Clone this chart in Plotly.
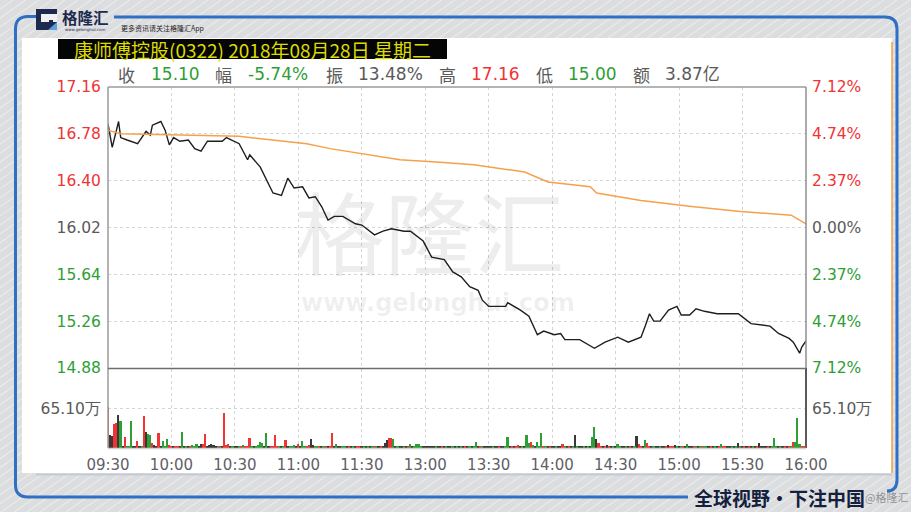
import plotly.graph_objects as go

W, H = 911, 512

# ---------------- data ----------------
time_labels = ["09:30", "10:00", "10:30", "11:00", "11:30", "13:00",
               "13:30", "14:00", "14:30", "15:00", "15:30", "16:00"]
prev_close = 16.02
price_ticks = [14.88, 15.26, 15.64, 16.02, 16.40, 16.78, 17.16]
pct_labels = ["7.12%", "4.74%", "2.37%", "0.00%", "2.37%", "4.74%", "7.12%"]

# minute index since 09:30 (lunch break removed)
price_minutes = [0, 2, 5, 6, 9, 14, 18, 20, 21, 25, 27, 29, 31, 34, 38, 41, 44, 47, 54, 56,
                 62, 66, 67, 72, 78, 82, 85, 88, 92, 95, 98, 101, 104, 107, 111, 117, 120,
                 126, 130, 134, 140, 143, 149, 153, 159, 163, 167, 171, 175, 177, 180, 188,
                 189, 195, 199, 203, 206, 211, 214, 216, 223, 230, 235, 241, 246, 252, 254,
                 256, 258, 261, 265, 269, 271, 275, 278, 282, 288, 298, 304, 313, 317, 322,
                 324, 327, 328, 330]
price_values = [16.86, 16.67, 16.88, 16.75, 16.73, 16.70, 16.80, 16.77, 16.85, 16.88, 16.81,
                16.69, 16.75, 16.72, 16.73, 16.66, 16.64, 16.72, 16.72, 16.75,
                16.70, 16.57, 16.61, 16.51, 16.30, 16.28, 16.42, 16.34, 16.35, 16.26, 16.27,
                16.19, 16.08, 16.11, 16.11, 16.05, 16.04,
                15.96, 15.99, 16.01, 15.99, 15.99, 15.91, 15.78, 15.76, 15.66, 15.62, 15.54,
                15.51, 15.43, 15.38, 15.38,
                15.41, 15.35, 15.30, 15.15, 15.18, 15.15, 15.16, 15.11, 15.11, 15.04, 15.09,
                15.13, 15.09, 15.13, 15.22,
                15.32, 15.26, 15.26, 15.35, 15.38, 15.31, 15.31, 15.36, 15.34, 15.32, 15.32,
                15.24, 15.22, 15.16, 15.12,
                15.09, 15.00, 15.05, 15.10]

avg_minutes = [0, 6, 62, 78, 94, 105, 119, 138, 157, 173, 197, 208, 228, 231, 252, 276, 299, 323, 330]
avg_values = [16.81, 16.78, 16.76, 16.73, 16.70, 16.66, 16.62, 16.57, 16.55, 16.53, 16.47,
              16.39, 16.35, 16.30, 16.24, 16.19, 16.15, 16.12, 16.05]

vol_tick = 65.10  # 万
# per-minute volume (万) and direction: r = up, g = down, k = flat
vol_values = [
    67, 22, 20, 40, 42, 55, 45, 4, 18, 4,
    2, 45, 3, 2, 12, 4, 3, 53, 27, 23,
    21, 8, 5, 3, 24, 4, 12, 3, 15, 5,
    4, 3, 4, 4, 2, 26, 3, 2, 2, 2,
    5, 4, 6, 3, 6, 7, 23, 3, 5, 6,
    5, 3, 2, 2, 2, 57, 5, 7, 2, 2,
    3, 2, 2, 2, 5, 3, 2, 17, 3, 2,
    2, 5, 10, 8, 3, 24, 3, 2, 3, 21,
    2, 2, 2, 2, 13, 2, 3, 2, 5, 2,
    7, 2, 12, 3, 3, 5, 15, 5, 3, 2,
    3, 2, 4, 2, 2, 4, 24, 2, 7, 2,
    3, 2, 3, 2, 2, 2, 4, 2, 2, 4,
    2, 3, 2, 4, 2, 3, 2, 2, 2, 3,
    3, 8, 14, 17, 17, 15, 3, 2, 2, 2,
    2, 2, 2, 7, 2, 2, 7, 6, 2, 2,
    2, 2, 3, 4, 2, 2, 2, 2, 2, 2,
    3, 2, 2, 2, 2, 2, 2, 3, 2, 2,
    2, 2, 2, 2, 10, 2, 3, 2, 2, 2,
    2, 2, 2, 3, 2, 3, 2, 2, 4, 18,
    2, 2, 2, 2, 5, 2, 2, 2, 21, 8,
    10, 5, 2, 10, 3, 25, 3, 2, 2, 2,
    2, 3, 2, 2, 2, 6, 2, 2, 2, 3,
    2, 22, 3, 2, 2, 2, 3, 2, 4, 18,
    35, 15, 8, 2, 3, 2, 5, 3, 3, 2,
    4, 7, 2, 2, 3, 2, 2, 2, 2, 2,
    19, 6, 2, 2, 13, 8, 2, 3, 3, 3,
    2, 3, 3, 2, 2, 5, 2, 2, 5, 2,
    2, 3, 2, 2, 6, 3, 2, 3, 2, 2,
    2, 3, 3, 2, 3, 2, 2, 2, 3, 2,
    7, 3, 2, 2, 2, 3, 2, 2, 9, 2,
    2, 2, 3, 2, 2, 2, 2, 3, 8, 2,
    3, 2, 2, 2, 3, 17, 2, 2, 2, 3,
    2, 2, 2, 2, 10, 10, 49, 7, 2, 2,
]
vol_dirs = list(
    "rkkrrkgkrg" "ggkkrkgrkg" "grkkrkgggr" "rkrrkgkgkr" "gggkkrrkkk"
    "kkgrkrrrkg" "kkgrgrrrgk" "gggg" "kgkrr" "r"
    "rgkgrkggg" "k" "rkgg" "rrkkgg" "rkgrkrrkgk" "kggkrkgkrr"
    "kgkgkgrgkr" "kkkrrgkgkk" "gkrgkggggk" "kkkkkgkkrk" "gkkgkgkgkr"
    "kgkggkrgkk" "kkgkkrkkgg" "krkrrkgkgg" "rgkgggrgkrk"
    "kgkkrgkrkg" "kgkkgkgkgg" "krrkrkrkgk" "ggkkgkrkgk" "rrkgrrkgkk"
    "gkkrkrrkgk" "grkgkkrgkg" "rggkrkgkrg" "rrkkgkgkgk" "rkrkgkrkkk"
    "krkggg" "kgkrkrgrgg" "grrk"
)

# ---------------- helpers (pixel -> paper) ----------------
def px(x):
    return x / W

def py(y):
    return 1 - y / H

RED = "#f03434"
GREEN = "#2e9e36"
GRAY_TXT = "#5a5a5a"
FLAT = "#383838"

n_vol = len(vol_values)
dirs = (vol_dirs + ["k"] * n_vol)[:n_vol]
vol_minutes = list(range(n_vol))

def sel(code):
    xs = [m for m, d in zip(vol_minutes, dirs) if d == code]
    ys = [v for v, d in zip(vol_values, dirs) if d == code]
    return xs, ys

def color_price(p, txt):
    if abs(p - prev_close) < 1e-6:
        c = GRAY_TXT
    elif p > prev_close:
        c = RED
    else:
        c = GREEN
    return f'<span style="color:{c}">{txt}</span>'

price_ticktext = [color_price(p, f"{p:.2f}") for p in price_ticks]
pct_ticktext = [color_price(p, lab) for p, lab in zip(price_ticks, pct_labels)]

tick_minutes = [30 * i for i in range(len(time_labels))]
total_minutes = tick_minutes[-1]

fig = go.Figure()

# watermark (behind lines)
fig.add_trace(go.Scatter(
    x=[152], y=[15.87], mode="text", text=["格隆汇"], xaxis="x", yaxis="y",
    textfont=dict(family="Noto Sans CJK SC", size=90, color="rgba(0,0,0,0.07)"),
    hoverinfo="skip", showlegend=False, cliponaxis=False))
fig.add_trace(go.Scatter(
    x=[156], y=[15.39], mode="text", text=["<b>www.gelonghui.com</b>"], xaxis="x", yaxis="y",
    textfont=dict(family="DejaVu Sans", size=24, color="rgba(0,0,0,0.07)"),
    hoverinfo="skip", showlegend=False, cliponaxis=False))

# average line (right axis, same scale)
fig.add_trace(go.Scatter(
    x=avg_minutes, y=avg_values, mode="lines", xaxis="x", yaxis="y3",
    line=dict(color="#f7a04a", width=1.5), hoverinfo="skip", showlegend=False))
# price line
fig.add_trace(go.Scatter(
    x=price_minutes, y=price_values, mode="lines", xaxis="x", yaxis="y",
    line=dict(color="#1e1e1e", width=1.4), hoverinfo="skip", showlegend=False))

# volume bars
for code, col, yax in [("r", RED, "y2"), ("k", FLAT, "y2"), ("g", GREEN, "y4")]:
    xs, ys = sel(code)
    fig.add_trace(go.Bar(x=xs, y=ys, xaxis="x2", yaxis=yax, width=0.8,
                         marker=dict(color=col, line=dict(width=0)),
                         hoverinfo="skip", showlegend=False))

x_dom = [px(108), px(806)]
tickfont = dict(family="DejaVu Sans", size=15.5, color=GRAY_TXT)
grid = dict(showgrid=True, gridcolor="#d4d4d4", griddash="dot", gridwidth=1)
common = dict(automargin=False, zeroline=False, showline=False)

fig.update_layout(
    width=W, height=H, margin=dict(l=0, r=0, t=0, b=0, autoexpand=False),
    paper_bgcolor="#dcdddf", plot_bgcolor="rgba(0,0,0,0)",
    barmode="overlay", bargap=0,
    xaxis=dict(domain=x_dom, range=[0, total_minutes], anchor="y",
               tickvals=tick_minutes, showticklabels=False, ticks="", **common, **grid),
    yaxis=dict(domain=[py(368), py(87)], range=[price_ticks[0], price_ticks[-1]],
               tickvals=price_ticks, ticktext=price_ticktext, tickfont=tickfont,
               ticks="outside", ticklen=3, tickcolor="rgba(0,0,0,0)",
               anchor="x", **common, **grid),
    yaxis3=dict(overlaying="y", side="right", anchor="x",
                range=[price_ticks[0], price_ticks[-1]],
                tickvals=price_ticks, ticktext=pct_ticktext, tickfont=tickfont,
                ticks="outside", ticklen=2, tickcolor="rgba(0,0,0,0)",
                showgrid=False, **common),
    xaxis2=dict(domain=x_dom, range=[0, total_minutes], anchor="y2", matches="x",
                tickvals=tick_minutes, ticktext=time_labels,
                tickfont=dict(family="DejaVu Sans", size=15, color="#5f5f66"),
                ticks="outside", ticklen=3, tickcolor="rgba(0,0,0,0)", **common, **grid),
    yaxis2=dict(domain=[py(448), py(369)], range=[0, 2 * vol_tick],
                tickvals=[vol_tick], ticktext=[f"{vol_tick:.2f}万"], tickfont=tickfont,
                ticks="outside", ticklen=3, tickcolor="rgba(0,0,0,0)",
                anchor="x2", **common, **grid),
    yaxis4=dict(overlaying="y2", side="right", anchor="x2", range=[0, 2 * vol_tick],
                tickvals=[vol_tick], ticktext=[f"{vol_tick:.2f}万"], tickfont=tickfont,
                ticks="outside", ticklen=2, tickcolor="rgba(0,0,0,0)",
                showgrid=False, **common),
)

shapes = []
# diagonal stripes on background
for i in range(130):
    x0 = -740 + i * 13
    shapes.append(dict(type="line", xref="paper", yref="paper", layer="below",
                       x0=px(x0), y0=py(512), x1=px(x0 + 740), y1=py(0),
                       line=dict(color="rgba(255,255,255,0.4)", width=1.2)))
# white panel
shapes.append(dict(type="rect", xref="paper", yref="paper", layer="below",
                   x0=px(22), x1=px(892), y0=py(473), y1=py(38),
                   fillcolor="white", line=dict(width=0)))
shapes.append(dict(type="line", xref="paper", yref="paper", layer="below",
                   x0=px(36), x1=px(892), y0=py(474.5), y1=py(474.5),
                   line=dict(color="#c4cbd6", width=2)))
# orange right edge of panel
shapes.append(dict(type="line", xref="paper", yref="paper",
                   x0=px(892), x1=px(892), y0=py(42), y1=py(473),
                   line=dict(color="#f0a040", width=1.5)))

def path(points):
    s = ""
    for cmd, *c in points:
        conv = []
        for k in range(0, len(c), 2):
            conv.append(f"{px(c[k]):.5f},{py(c[k+1]):.5f}")
        s += cmd + " " + " ".join(conv) + " "
    return s.strip()

blue = "#2f6fc4"
shapes.append(dict(type="path", xref="paper", yref="paper",
                   path=path([("M", 36, 16.5), ("L", 28, 16.5), ("Q", 15.5, 16.5, 15.5, 29),
                              ("L", 15.5, 485), ("Q", 15.5, 497, 28, 497), ("L", 688, 497)]),
                   line=dict(color=blue, width=3)))
shapes.append(dict(type="path", xref="paper", yref="paper",
                   path=path([("M", 114, 17), ("L", 885, 17), ("Q", 897, 17, 897, 29),
                              ("L", 897, 480), ("Q", 897, 491, 887, 491)]),
                   line=dict(color=blue, width=3)))

def seg(x0, y0, x1, y1, col, w):
    shapes.append(dict(type="line", xref="paper", yref="paper",
                       x0=px(x0), y0=py(y0), x1=px(x1), y1=py(y1),
                       line=dict(color=col, width=w)))

seg(108, 87, 806, 87, "#9b9b9b", 1.5)
seg(108, 87, 108, 448, "#9b9b9b", 1.5)
seg(806, 87, 806, 368, "#8e8e8e", 1.5)
seg(806, 368, 806, 448, "#5a5a5a", 2)
seg(108, 368.5, 806, 368.5, "#6e6e6e", 1.5)
seg(108, 448.5, 806, 448.5, "#d2d2d2", 1.5)

# title box
shapes.append(dict(type="rect", xref="paper", yref="paper",
                   x0=px(58), x1=px(447), y0=py(59), y1=py(39),
                   fillcolor="#050505", line=dict(width=0)))
# logo icon
shapes.append(dict(type="rect", xref="paper", yref="paper",
                   x0=px(36), x1=px(57), y0=py(30), y1=py(9),
                   fillcolor="#1d2a4d", line=dict(width=0)))
shapes.append(dict(type="rect", xref="paper", yref="paper",
                   x0=px(41), x1=px(57), y0=py(22), y1=py(14),
                   fillcolor="#eef0f4", line=dict(width=0)))
shapes.append(dict(type="rect", xref="paper", yref="paper",
                   x0=px(49), x1=px(53), y0=py(26), y1=py(20),
                   fillcolor="#1d2a4d", line=dict(width=0)))
shapes.append(dict(type="path", xref="paper", yref="paper",
                   path=path([("M", 48, 30), ("L", 57, 30), ("L", 57, 22)]) + " Z",
                   fillcolor="#5aa0e0", line=dict(width=0)))

fig.update_layout(shapes=shapes)

ann = []
def text(x, y, s, size, color, family="Noto Sans CJK SC", xanchor="center", **kw):
    ann.append(dict(x=px(x), y=py(y), xref="paper", yref="paper", text=s, showarrow=False,
                    xanchor=xanchor, yanchor="middle",
                    font=dict(family=family, size=size, color=color), **kw))

text(252, 49.5, "康师傅控股(0322) 2018年08月28日 星期二", 19, "#dcdc00")

info = [("收", GRAY_TXT, 126), ("15.10", GREEN, 175), ("幅", GRAY_TXT, 223),
        ("-5.74%", GREEN, 278), ("振", GRAY_TXT, 334), ("13.48%", GRAY_TXT, 390),
        ("高", GRAY_TXT, 447), ("17.16", RED, 495), ("低", GRAY_TXT, 544),
        ("15.00", GREEN, 592), ("额", GRAY_TXT, 641), ("3.87亿", GRAY_TXT, 692)]
for s, c, x in info:
    fam = "Noto Sans CJK SC" if len(s) == 1 else "DejaVu Sans, Noto Sans CJK SC"
    text(x, 74, s, 17, c, family=fam)

text(85, 16.5, "<b>格隆汇</b>", 15.5, "#1d2a4d")
text(85, 29.5, "www.gelonghui.com", 4, "#1d2a4d", family="DejaVu Sans")
text(119, 27.5, "更多资讯请关注格隆汇App", 7, "#222", xanchor="left")
text(779, 497, "<b>全球视野・下注中国</b>", 19, "#15203d")
text(886, 497, "@格隆汇", 11, "rgba(110,110,110,0.7)")

fig.update_layout(annotations=ann)

fig.write_html("out.html", config={"displayModeBar": False},
               post_script="document.body.style.margin='0';document.body.style.overflow='hidden';")
